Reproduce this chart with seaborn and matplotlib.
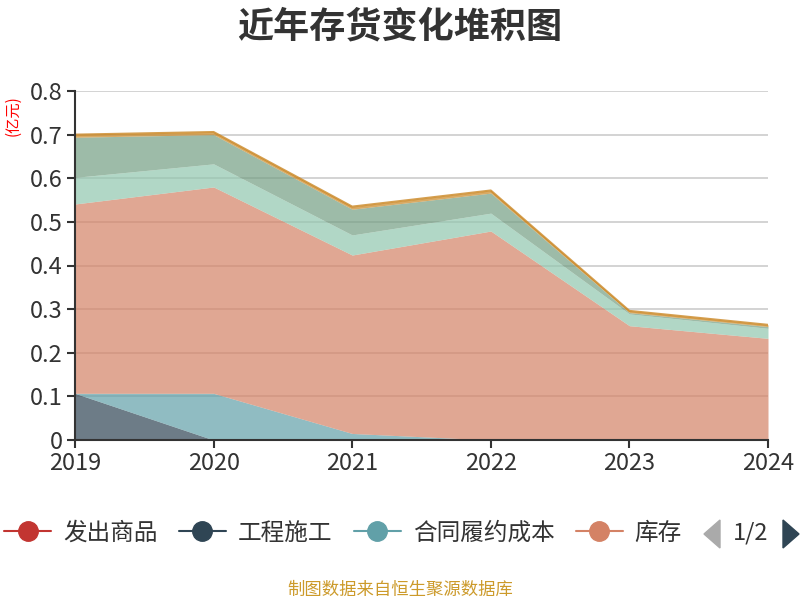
import numpy as np
import pandas as pd
import seaborn as sns
import matplotlib.pyplot as plt
from matplotlib.lines import Line2D
from matplotlib.patches import Polygon

sns.set_style("white")
plt.rcParams['font.family'] = ['Noto Sans CJK SC', 'DejaVu Sans']

# data (亿元)
years = [2019, 2020, 2021, 2022, 2023, 2024]
fachu_shangpin = [0, 0, 0, 0, 0, 0]
gongcheng_shigong = [0.107, 0, 0, 0, 0, 0]
hetong_lvyue = [0, 0.107, 0.015, 0, 0, 0]
kucun = [0.434, 0.473, 0.409, 0.479, 0.262, 0.233]
yuancailiao = [0.061, 0.053, 0.046, 0.041, 0.027, 0.023]
zaichanpin = [0.092, 0.067, 0.059, 0.046, 0.003, 0.004]
qita = [0.006, 0.006, 0.006, 0.006, 0.004, 0.004]

names = ['发出商品', '工程施工', '合同履约成本', '库存', '原材料', '在产品', '其他']
colors = ['#c23531', '#2f4554', '#61a0a8', '#d48265', '#91c7ae', '#749f83', '#ca8622']
series = [fachu_shangpin, gongcheng_shigong, hetong_lvyue, kucun, yuancailiao, zaichanpin, qita]

df = pd.DataFrame(dict(zip(names, series)), index=years)

fig = plt.figure(figsize=(8, 6), dpi=100)
ax = fig.add_axes([75/800, 1-440/600, (768-75)/800, (440-91)/600])

ax.stackplot(df.index, [df[n].values for n in names], colors=colors, alpha=0.7, lw=0, zorder=2)
top = df.sum(axis=1)
sns.lineplot(x=df.index, y=top.values, color='#ca8622', lw=1.5, ax=ax, zorder=3, alpha=0.8)

ax.set_xlim(2019, 2024)
ax.set_ylim(0, 0.8)
ax.set_xlabel('')
ax.set_ylabel('')
ax.set_xticks(years)
ax.set_xticklabels([str(y) for y in years])
ax.set_yticks(np.arange(0, 0.81, 0.1))
ax.set_yticklabels(['0'] + ['%.1f' % v for v in np.arange(0.1, 0.81, 0.1)])
ax.yaxis.grid(True, color='#cccccc', lw=1.2)
ax.set_axisbelow(True)
for s in ['top', 'right']:
    ax.spines[s].set_visible(False)
for s in ['left', 'bottom']:
    ax.spines[s].set_color('#333333')
    ax.spines[s].set_linewidth(1.5)
    ax.spines[s].set_zorder(4)
ax.tick_params(axis='both', direction='out', length=6, width=1.5, color='#333333',
               labelcolor='#333333', labelsize=17, pad=3)
ax.tick_params(axis='y', left=True)
ax.tick_params(axis='x', bottom=True)

fig.text(0.5, 1-27/600, '近年存货变化堆积图', ha='center', va='center',
         fontsize=26, fontweight='bold', color='#333333')
fig.text(13/800, 1-116/600, '(亿元)', rotation=90, ha='center', va='center',
         fontsize=11, color='red')

handles = [Line2D([], [], color=c, marker='o', markersize=14, lw=1.5) for c in colors[:4]]
fig.legend(handles, names[:4], loc='center', bbox_to_anchor=(343/800, 1-533/600), ncol=4,
           frameon=False, fontsize=17, handlelength=2.0, handletextpad=0.5,
           columnspacing=0.9, labelcolor='#333333')

fig.patches.append(Polygon([(720/800, 1-520/600), (720/800, 1-548/600), (704/800, 1-534/600)],
                           closed=True, transform=fig.transFigure, color='#aaaaaa'))
fig.text(751/800, 1-533/600, '1/2', ha='center', va='center', fontsize=17, color='#333333')
fig.patches.append(Polygon([(783/800, 1-520/600), (783/800, 1-548/600), (799/800, 1-534/600)],
                           closed=True, transform=fig.transFigure, color='#2f4554'))

fig.text(0.5, 1-590/600, '制图数据来自恒生聚源数据库', ha='center', va='center',
         fontsize=12.5, color='#cc9a2a')

plt.savefig('out.png')
